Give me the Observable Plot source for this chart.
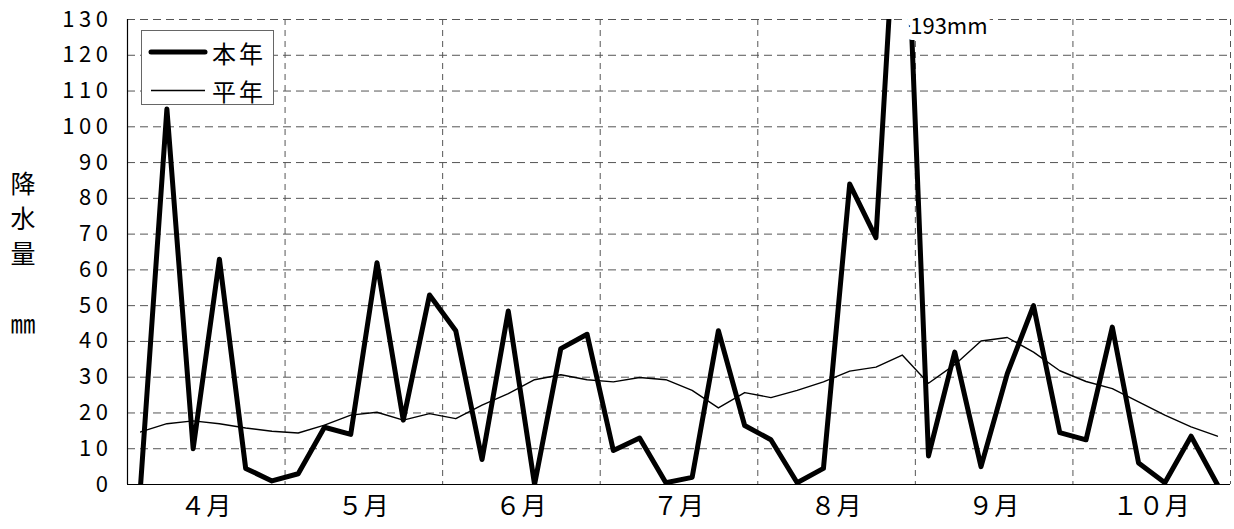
<!DOCTYPE html>
<html><head><meta charset="utf-8">
<script src="https://cdn.jsdelivr.net/npm/d3@7"></script>
<script src="https://cdn.jsdelivr.net/npm/@observablehq/plot@0.6"></script>
<style>
html,body{margin:0;padding:0;background:#fff;}
#wrap{position:relative;width:1234px;height:529px;font-family:"Noto Sans CJK JP",sans-serif;}
#ytitle{position:absolute;left:8px;top:165px;width:30px;text-align:center;font-size:25px;line-height:35px;color:#000;}
#legend{position:absolute;left:141px;top:30px;}
g[aria-label="y-axis tick label"] text{letter-spacing:4.5px;}
g[aria-label="x-axis tick label"] text{letter-spacing:1px;}
</style></head><body><div id="wrap"></div>
<script>
const months = ["４月","５月","６月","７月","８月","９月","１０月"];
const yTicks = [0,10,20,30,40,50,60,70,80,90,100,110,120,130];
const thisYear = [0,105,10,63,4.5,1,3,16,14,62,18,53,43,7,48.5,0,38,42,9.5,13,0.5,2,43,16.5,12.5,0.5,4.5,84,69,193,8,37,5,31,50,14.5,12.5,44,6,0.5,13.5,0];
const normal = [14.7,17,17.8,17,15.8,14.9,14.4,16.6,19.4,20.2,18,19.8,18.4,22.2,25.4,29.3,30.7,29.3,28.7,29.9,29.3,26.3,21.4,25.7,24.3,26.3,28.7,31.7,32.8,36.2,28.3,33.5,40.1,41.1,37,31.8,28.8,26.8,23.1,19.4,16.1,13.5];
const seriesNames = ["本年","平年"];
const yTitle = ["降","水","量","","㎜"];
const unit = "mm";

const perMonth = 6;
const nP = months.length * perMonth;
const yMax = yTicks[yTicks.length - 1];
const monthEdges = d3.range(1, months.length + 1).map(m => m * perMonth);
const monthCenters = months.map((m, i) => i * perMonth + perMonth / 2);
const peakIdx = thisYear.indexOf(d3.max(thisYear));
const font = '"Noto Sans CJK JP", sans-serif';

const chart = Plot.plot({
  width: 1234, height: 529,
  marginLeft: 127, marginRight: 4, marginTop: 19, marginBottom: 45,
  style: {fontFamily: font, color: "#000", background: "#fff"},
  x: {domain: [0, nP]},
  y: {domain: [0, yMax]},
  marks: [
    Plot.ruleY(yTicks.filter(d => d > 0), {stroke: "#555", strokeWidth: 1, strokeDasharray: "8,5"}),
    Plot.ruleX(monthEdges, {stroke: "#555", strokeWidth: 1, strokeDasharray: "6,5"}),
    Plot.line(normal, {x: (d, i) => i + 0.5, y: d => d, stroke: "#000", strokeWidth: 1.4, clip: true}),
    Plot.line(thisYear, {x: (d, i) => i + 0.5, y: d => d, stroke: "#000", strokeWidth: 5, clip: true}),
    Plot.text([peakIdx], {x: i => i + 0.5, y: () => yMax, text: i => thisYear[i] + unit,
      textAnchor: "start", dx: 8, dy: 7, fontSize: 22, fill: "#000",
      stroke: "#fff", strokeWidth: 12, paintOrder: "stroke"}),
    Plot.ruleX([0], {stroke: "#000", strokeWidth: 1.2}),
    Plot.ruleY([0], {stroke: "#000", strokeWidth: 1.2}),
    Plot.axisY({ticks: yTicks, tickSize: 0, tickPadding: 15, fontSize: 22, label: null}),
    Plot.axisX({ticks: monthCenters, tickFormat: (d, i) => months[i], tickSize: 0, tickPadding: 13, fontSize: 25, label: null})
  ]
});

const wrap = document.getElementById("wrap");
wrap.appendChild(chart);

const yt = document.createElement("div");
yt.id = "ytitle";
yt.innerHTML = yTitle.map(c => c || "&nbsp;").join("<br>");
wrap.appendChild(yt);

const ns = "http://www.w3.org/2000/svg";
const lg = document.createElementNS(ns, "svg");
lg.setAttribute("id", "legend");
lg.setAttribute("width", 134);
lg.setAttribute("height", 76);
lg.innerHTML = `
  <rect x="0.5" y="0.5" width="132" height="74" fill="#fff" stroke="#666" stroke-width="1"/>
  <line x1="10" x2="64" y1="22" y2="22" stroke="#000" stroke-width="5" stroke-linecap="round"/>
  <line x1="10" x2="64" y1="60.5" y2="60.5" stroke="#000" stroke-width="1.4"/>
  <text x="71" y="22" dominant-baseline="central" font-size="24" letter-spacing="3" font-family='${font}'>${seriesNames[0]}</text>
  <text x="71" y="60" dominant-baseline="central" font-size="24" letter-spacing="3" font-family='${font}'>${seriesNames[1]}</text>`;
wrap.appendChild(lg);
</script>
</body></html>
